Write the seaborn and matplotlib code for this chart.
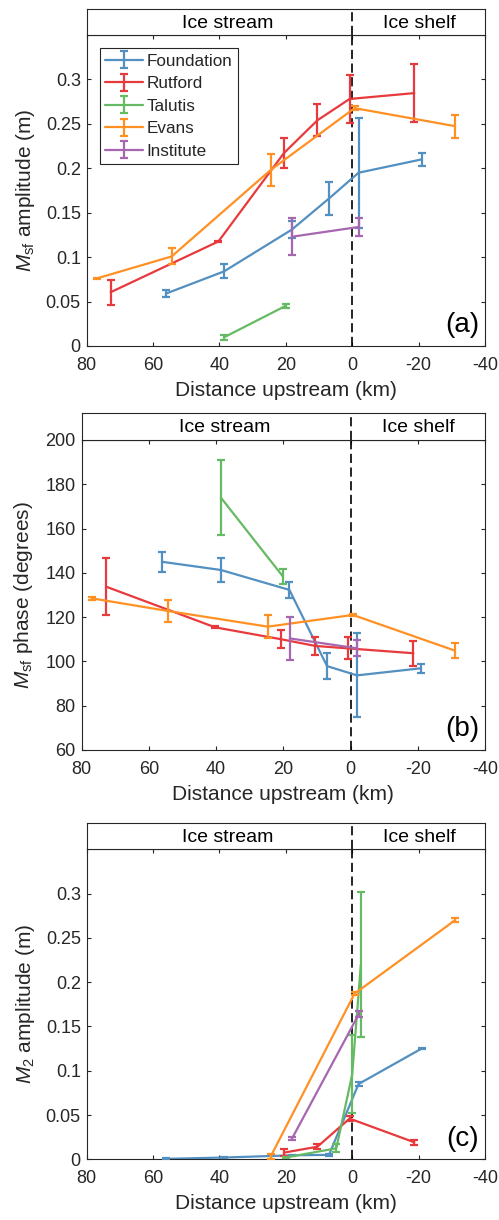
import numpy as np
import pandas as pd
import matplotlib
matplotlib.use("Agg")
import matplotlib.pyplot as plt
import seaborn as sns
from matplotlib.ticker import FuncFormatter

# ---------------------------------------------------------------- data
glaciers = ["Foundation", "Rutford", "Talutis", "Evans", "Institute"]

# distance upstream of the grounding line (km)
foundation_km = [56.1, 38.6, 18.2, 7.0, -1.9, -20.9]
rutford_km = [72.8, 40.3, 20.6, 10.5, 0.8, -18.7]
talutis_km = [38.6, 20.1]
evans_km = [77.0, 54.4, 24.6, -0.7, -31.0]
institute_km = [18.1, -2.0]

rutford_m2_km = [20.6, 10.5, 0.8, -18.7]
talutis_m2_km = [20.1, 4.8, 0.0, -2.6]
evans_m2_km = [24.6, -0.7, -31.0]

# Msf amplitude (m)
foundation_msf_amp = [0.059, 0.084, 0.131, 0.166, 0.195, 0.210]
foundation_msf_amp_err = [0.004, 0.008, 0.010, 0.0185, 0.062, 0.007]
rutford_msf_amp = [0.0605, 0.1177, 0.217, 0.254, 0.278, 0.2846]
rutford_msf_amp_err = [0.014, 0.001, 0.017, 0.018, 0.027, 0.0325]
talutis_msf_amp = [0.0098, 0.0451]
talutis_msf_amp_err = [0.003, 0.002]
evans_msf_amp = [0.076, 0.1008, 0.198, 0.2677, 0.2474]
evans_msf_amp_err = [0.001, 0.009, 0.018, 0.002, 0.013]
institute_msf_amp = [0.123, 0.134]
institute_msf_amp_err = [0.021, 0.0105]

# Msf phase (degrees)
foundation_msf_phase = [145.0, 141.3, 132.3, 97.9, 93.7, 96.9]
foundation_msf_phase_err = [4.4, 5.5, 3.5, 5.9, 19.0, 2.1]
rutford_msf_phase = [133.8, 115.4, 110.0, 107.0, 105.9, 103.7]
rutford_msf_phase_err = [12.9, 0.5, 4.1, 4.0, 5.0, 5.6]
talutis_msf_phase = [174.0, 138.3]
talutis_msf_phase_err = [17.0, 3.5]
evans_msf_phase = [128.5, 122.8, 115.7, 121.0, 104.9]
evans_msf_phase_err = [0.6, 5.1, 5.3, 0.5, 3.4]
institute_msf_phase = [110.4, 105.9]
institute_msf_phase_err = [9.6, 3.6]

# M2 amplitude (m)
foundation_m2_amp = [0.0005, 0.002, 0.0045, 0.005, 0.085, 0.125]
foundation_m2_amp_err = [0.0005, 0.0005, 0.0005, 0.001, 0.002, 0.001]
rutford_m2_amp = [0.0075, 0.0142, 0.046, 0.0192]
rutford_m2_amp_err = [0.004, 0.003, 0.003, 0.003]
talutis_m2_amp = [0.002, 0.0124, 0.096, 0.220]
talutis_m2_amp_err = [0.001, 0.0047, 0.044, 0.082]
evans_m2_amp = [0.003, 0.187, 0.270]
evans_m2_amp_err = [0.003, 0.002, 0.002]
institute_m2_amp = [0.0237, 0.164]
institute_m2_amp_err = [0.002, 0.003]

x_ticks = [80, 60, 40, 20, 0, -20, -40]
region_labels = ["Ice stream", "Ice shelf"]
region_label_km = [37.4, -20.3]
panel_letters = ["(a)", "(b)", "(c)"]

# ---------------------------------------------------------------- style
sns.set_style("ticks")
plt.rcParams["font.family"] = ["Liberation Sans", "DejaVu Sans"]
plt.rcParams["mathtext.fontset"] = "custom"
plt.rcParams["mathtext.rm"] = "Liberation Sans"
plt.rcParams["mathtext.it"] = "Liberation Sans:italic"
plt.rcParams["axes.unicode_minus"] = False

TXT = "#262626"
base = sns.color_palette("Set1", 5)
# Set1 order: red, blue, green, purple, orange
palette = {
    "Foundation": sns.blend_palette([base[1], "white"], 8)[1],
    "Rutford": sns.blend_palette([base[0], "white"], 8)[1],
    "Talutis": sns.blend_palette([base[2], "white"], 8)[1],
    "Evans": sns.blend_palette([base[4], "white"], 8)[1],
    "Institute": sns.blend_palette([base[3], "white"], 8)[1],
}
LW = 1.6
CAP = 2.9
DASH = (5.5, 2.7)

W, H = 499, 1220
fig = plt.figure(figsize=(W / 100, H / 100), dpi=100)


def px_axes(left, top, right, bottom):
    return fig.add_axes([left / W, 1 - bottom / H, (right - left) / W, (bottom - top) / H])


def add_header(ax_h):
    ax_h.set_xlim(80, -40)
    ax_h.set_ylim(0, 1)
    ax_h.set_xticks([])
    ax_h.set_yticks([])
    for s in ax_h.spines.values():
        s.set_visible(True)
        s.set_color(TXT)
        s.set_linewidth(0.8)
    for lab, km in zip(region_labels, region_label_km):
        ax_h.text(km, 0.45, lab, ha="center", va="center", fontsize=14, color="black")
    ax_h.axvline(0, color="black", lw=1.2, dashes=DASH)


def style_main(ax, ylim, yticks, letter):
    ax.set_xlim(80, -40)
    ax.set_ylim(*ylim)
    ax.set_xticks(x_ticks)
    ax.set_yticks(yticks)
    ax.yaxis.set_major_formatter(FuncFormatter(lambda v, p: f"{v:g}"))
    ax.tick_params(direction="in", length=3.2, width=0.8, top=True, right=True,
                   labelsize=13, colors=TXT, pad=4.2)
    ax.tick_params(axis="x", pad=8.0)
    for s in ax.spines.values():
        s.set_visible(True)
        s.set_color(TXT)
        s.set_linewidth(0.8)
    ax.axvline(0, color="black", lw=1.2, dashes=DASH, zorder=1)
    ax.set_xlabel("Distance upstream (km)", fontsize=15, color=TXT, labelpad=5)
    ax.text(0.985, 0.025, letter, transform=ax.transAxes, ha="right", va="bottom",
            fontsize=20, color="black")


def draw_series(ax, series):
    for name, km, val, err in series:
        df = pd.DataFrame({"km": km, "val": val})
        sns.lineplot(data=df, x="km", y="val", ax=ax, color=palette[name], lw=LW,
                     sort=False, estimator=None, legend=False, zorder=3)
        ax.errorbar(km, val, yerr=err, fmt="none", ecolor=palette[name],
                    elinewidth=LW, capsize=CAP, capthick=LW, zorder=3)
    ax.set_xlabel("")
    ax.set_ylabel("")


# ---------------------------------------------------------------- (a)
ax_a = px_axes(86.7, 35, 485, 346)
ax_ah = px_axes(86.7, 9.3, 485, 35)
draw_series(ax_a, [
    ("Foundation", foundation_km, foundation_msf_amp, foundation_msf_amp_err),
    ("Rutford", rutford_km, rutford_msf_amp, rutford_msf_amp_err),
    ("Talutis", talutis_km, talutis_msf_amp, talutis_msf_amp_err),
    ("Evans", evans_km, evans_msf_amp, evans_msf_amp_err),
    ("Institute", institute_km, institute_msf_amp, institute_msf_amp_err),
])
style_main(ax_a, (0, 0.35), [0, 0.05, 0.1, 0.15, 0.2, 0.25, 0.3], panel_letters[0])
ax_a.set_ylabel(r"$\mathit{M}_{\mathrm{sf}}$ amplitude (m)", fontsize=15, color=TXT)
ax_a.yaxis.set_label_coords(-0.125, 0.5)
add_header(ax_ah)

# legend with error-bar handles
handles = []
for name in glaciers:
    h = ax_a.errorbar([np.nan], [np.nan], yerr=[np.nan], fmt="-", color=palette[name],
                      lw=LW, elinewidth=LW, capsize=CAP, capthick=LW, label=name)
    handles.append(h)
leg = ax_a.legend(handles=handles, loc="upper left", bbox_to_anchor=(0.033, 0.958),
                  borderaxespad=0, fontsize=12.3, frameon=True, fancybox=False,
                  framealpha=1, edgecolor=TXT, handlelength=2.2, handletextpad=0.2,
                  labelspacing=0.44, borderpad=0.32)
leg.get_frame().set_linewidth(0.8)

# ---------------------------------------------------------------- (b)
ax_b = px_axes(81.7, 440, 485, 750)
ax_bh = px_axes(81.7, 413.3, 485, 440)
draw_series(ax_b, [
    ("Foundation", foundation_km, foundation_msf_phase, foundation_msf_phase_err),
    ("Rutford", rutford_km, rutford_msf_phase, rutford_msf_phase_err),
    ("Talutis", talutis_km, talutis_msf_phase, talutis_msf_phase_err),
    ("Evans", evans_km, evans_msf_phase, evans_msf_phase_err),
    ("Institute", institute_km, institute_msf_phase, institute_msf_phase_err),
])
style_main(ax_b, (60, 200), np.arange(60, 201, 20), panel_letters[1])
ax_b.set_ylabel(r"$\mathit{M}_{\mathrm{sf}}$ phase (degrees)", fontsize=15, color=TXT)
ax_b.yaxis.set_label_coords(-0.116, 0.5)
add_header(ax_bh)

# ---------------------------------------------------------------- (c)
ax_c = px_axes(86.7, 849.3, 485, 1159.3)
ax_ch = px_axes(86.7, 822.7, 485, 849.3)
draw_series(ax_c, [
    ("Foundation", foundation_km, foundation_m2_amp, foundation_m2_amp_err),
    ("Rutford", rutford_m2_km, rutford_m2_amp, rutford_m2_amp_err),
    ("Talutis", talutis_m2_km, talutis_m2_amp, talutis_m2_amp_err),
    ("Evans", evans_m2_km, evans_m2_amp, evans_m2_amp_err),
    ("Institute", institute_km, institute_m2_amp, institute_m2_amp_err),
])
style_main(ax_c, (0, 0.35), [0, 0.05, 0.1, 0.15, 0.2, 0.25, 0.3], panel_letters[2])
ax_c.set_ylabel(r"$\mathit{M}_{2}$ amplitude (m)", fontsize=15, color=TXT)
ax_c.yaxis.set_label_coords(-0.125, 0.5)
add_header(ax_ch)

fig.savefig("out.png", dpi=100, facecolor="white")
